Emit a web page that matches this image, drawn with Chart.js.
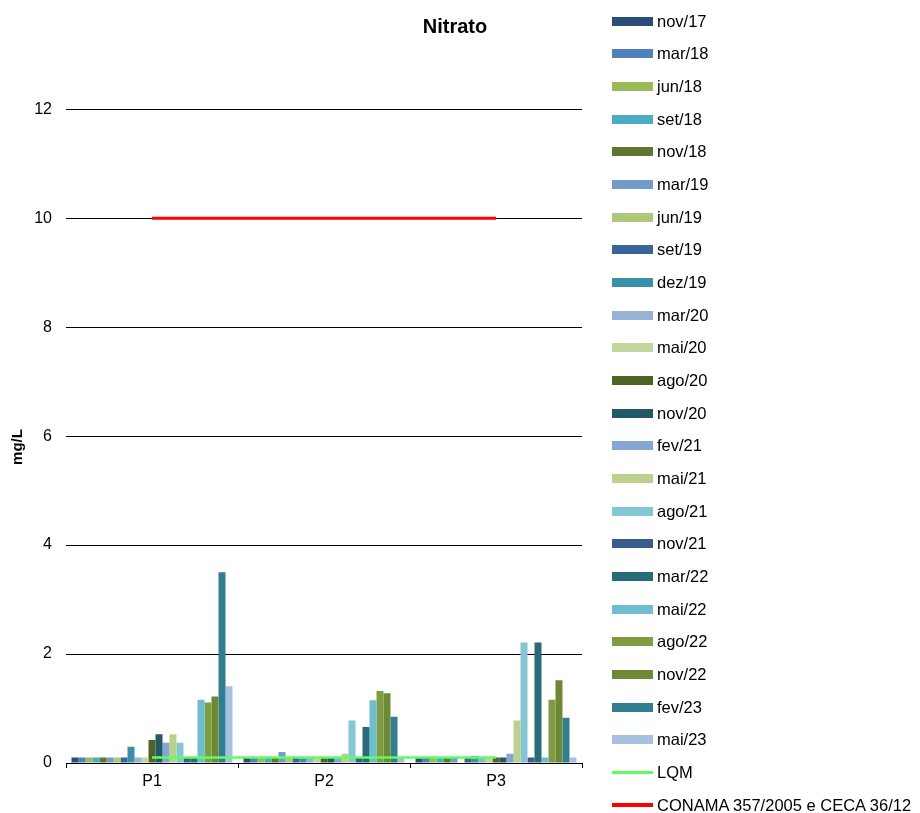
<!DOCTYPE html>
<html>
<head>
<meta charset="utf-8">
<script src="https://cdn.jsdelivr.net/npm/chart.js@4/dist/chart.umd.min.js"></script>
<style>
  html, body { margin: 0; padding: 0; background: #fff; }
  #wrap { position: relative; width: 920px; height: 813px; }
  #chart { position: absolute; left: 0; top: 0; }
  #legend { position: absolute; left: 0; top: 0; width: 920px; height: 813px; pointer-events: none;
            font-family: 'Liberation Sans', Arial, sans-serif; font-size: 16.5px; color: #000; }
  .item { position: absolute; left: 612px; height: 20px; display: flex; align-items: center; white-space: nowrap; }
  .sw { width: 41px; margin-right: 4px; }
</style>
</head>
<body>
<div id="wrap">
  <canvas id="chart" width="920" height="813"></canvas>
  <div id="legend"></div>
</div>
<script>
// Sampling points
const categories = ['P1', 'P2', 'P3'];

// Campaign names (one bar series per campaign)
const campaigns = ['nov/17', 'mar/18', 'jun/18', 'set/18', 'nov/18', 'mar/19', 'jun/19', 'set/19',
  'dez/19', 'mar/20', 'mai/20', 'ago/20', 'nov/20', 'fev/21', 'mai/21', 'ago/21', 'nov/21',
  'mar/22', 'mai/22', 'ago/22', 'nov/22', 'fev/23', 'mai/23'];

// Nitrate (mg/L) per campaign, values for P1, P2, P3
const nov17 = [0.1, 0.1, 0.1];
const mar18 = [0.1, 0.1, 0.1];
const jun18 = [0.1, 0.1, 0.1];
const set18 = [0.1, 0.1, 0.1];
const nov18 = [0.1, 0.1, 0.1];
const mar19 = [0.1, 0.2, 0.1];
const jun19 = [0.1, 0.1, null];
const set19 = [0.1, 0.1, 0.1];
const dez19 = [0.3, 0.1, 0.13];
const mar20 = [0.1, 0.1, 0.1];
const mai20 = [0.1, 0.1, 0.1];
const ago20 = [0.42, 0.1, 0.1];
const nov20 = [0.53, 0.1, 0.1];
const fev21 = [0.37, 0.1, 0.17];
const mai21 = [0.53, 0.17, 0.78];
const ago21 = [0.37, 0.78, 2.21];
const nov21 = [0.1, 0.1, 0.1];
const mar22 = [0.1, 0.66, 2.21];
const mai22 = [1.16, 1.15, 0.1];
const ago22 = [1.11, 1.32, 1.16];
const nov22 = [1.22, 1.28, 1.52];
const fev23 = [3.5, 0.85, 0.83];
const mai23 = [1.41, 0.1, 0.1];

// Quantification limit and legal limit
const lqm = [0.1, 0.1, 0.1];
const conama = [10, 10, 10];

// Y axis ticks
const yMin = 0;
const yMax = 13;
const yStep = 2;

const seriesValues = [nov17, mar18, jun18, set18, nov18, mar19, jun19, set19, dez19, mar20, mai20,
  ago20, nov20, fev21, mai21, ago21, nov21, mar22, mai22, ago22, nov22, fev23, mai23];

const seriesColors = ['#2C4D75', '#4F81BD', '#9BBB59', '#4BACC6', '#5F7530', '#729ACA', '#AFC97A',
  '#38649A', '#3891A7', '#95B3D7', '#C3D69B', '#4F6228', '#215968', '#86A5D3', '#BED08E',
  '#84C5D6', '#385D8A', '#286B7A', '#6FBDD1', '#7F9D40', '#6E8935', '#317E93', '#A8C0DF'];

const FONT = "'Liberation Sans', Arial, sans-serif";
Chart.defaults.font.family = FONT;
Chart.defaults.color = '#000';

const datasets = campaigns.map((name, i) => ({
  type: 'bar',
  label: name,
  data: seriesValues[i],
  backgroundColor: seriesColors[i],
  borderWidth: 0,
  categoryPercentage: 0.936,
  barPercentage: 1.0
}));

datasets.push({
  type: 'line',
  label: 'LQM',
  data: lqm,
  borderColor: '#5CFF5C',
  backgroundColor: '#5CFF5C',
  borderWidth: 2.5,
  pointRadius: 0,
  fill: false,
  order: -1
});
datasets.push({
  type: 'line',
  label: 'CONAMA 357/2005 e CECA 36/12',
  data: conama,
  borderColor: '#FF0000',
  backgroundColor: '#FF0000',
  borderWidth: 3,
  pointRadius: 0,
  fill: false,
  order: -2
});

// Title and rotated unit label
const chartTexts = {
  id: 'chartTexts',
  afterDraw(chart) {
    const ctx = chart.ctx;
    ctx.save();
    ctx.fillStyle = '#000';
    ctx.font = "bold 20px " + FONT;
    ctx.textAlign = 'center';
    ctx.textBaseline = 'alphabetic';
    ctx.fillText('Nitrato', 455, 32.5);
    ctx.translate(18, 447);
    ctx.rotate(-Math.PI / 2);
    ctx.font = "bold 15px " + FONT;
    ctx.textBaseline = 'middle';
    ctx.fillText('mg/L', 0, 0);
    ctx.restore();
  }
};

const chart = new Chart(document.getElementById('chart'), {
  type: 'bar',
  data: { labels: categories, datasets: datasets },
  options: {
    responsive: false,
    animation: false,
    devicePixelRatio: 1,
    layout: { padding: { left: 0, top: 54.8, right: 338, bottom: 0 } },
    plugins: {
      legend: { display: false },
      title: { display: false },
      tooltip: { enabled: false }
    },
    scales: {
      x: {
        type: 'category',
        grid: { display: true, offset: true, drawOnChartArea: false, drawTicks: true, tickLength: 5, color: '#000', lineWidth: 1 },
        border: { display: true, color: '#000', width: 1 },
        ticks: { font: { size: 16 }, color: '#000', padding: 4, maxRotation: 0 },
        afterFit: (s) => { s.height = 50; }
      },
      y: {
        min: yMin,
        max: yMax,
        grid: { color: '#000', lineWidth: 1, drawTicks: false },
        border: { display: false },
        ticks: { stepSize: yStep, includeBounds: false, padding: 14, font: { size: 16 }, color: '#000' },
        afterFit: (s) => { s.width = 66; }
      }
    }
  },
  plugins: [chartTexts]
});

// Legend built from the chart's datasets
const legend = document.getElementById('legend');
chart.data.datasets.forEach((ds, i) => {
  const item = document.createElement('div');
  item.className = 'item';
  const cy = 21 + i * 32.67;
  item.style.top = (cy - 10) + 'px';
  const sw = document.createElement('span');
  sw.className = 'sw';
  if (ds.type === 'line') {
    sw.style.height = (ds.borderWidth + 0.5) + 'px';
    sw.style.background = ds.borderColor;
  } else {
    sw.style.height = '9px';
    sw.style.background = ds.backgroundColor;
  }
  const tx = document.createElement('span');
  tx.textContent = ds.label;
  item.appendChild(sw);
  item.appendChild(tx);
  legend.appendChild(item);
});
</script>
</body>
</html>
